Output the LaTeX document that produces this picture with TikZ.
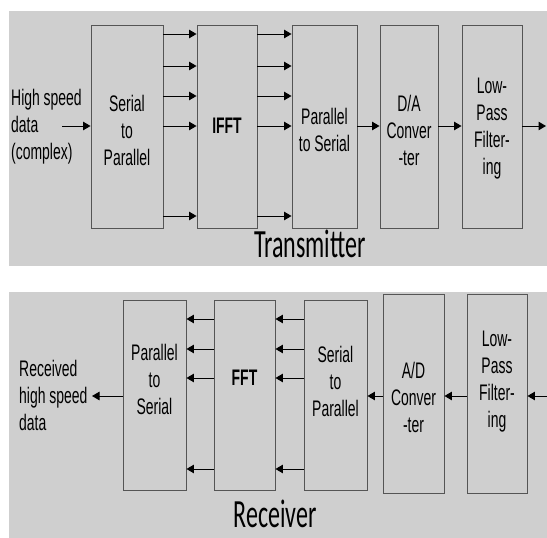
\documentclass[tikz,border=0pt]{standalone}
\usepackage{fontspec}
\usepackage{tikz}
\usetikzlibrary{arrows.meta}
\newfontfamily\blkfont[FakeStretch=0.62]{Liberation Sans}
\newfontfamily\capfont[FakeStretch=0.6]{Carlito}
\definecolor{panelgray}{RGB}{207,207,207}
\definecolor{edgegray}{RGB}{85,85,85}

\begin{document}
\begin{tikzpicture}[
    x=1pt, y=-1pt,
    blk/.style={rectangle, draw=edgegray, line width=0.9pt, inner sep=0pt},
    txt/.style={font=\blkfont\fontsize{22.5}{27}\selectfont, align=center, inner sep=0pt},
    side/.style={txt, align=left, anchor=west},
    caption/.style={font=\capfont\fontsize{40}{42}\selectfont, anchor=base, inner sep=0pt},
    arrow/.style={-{Triangle[length=7.5pt,width=8.5pt]}, line width=1pt}
]
\useasboundingbox (0,0) rectangle (547,538);
\fill[panelgray] (9,11) rectangle (547,266);
\fill[panelgray] (9,292) rectangle (547,538);

% transmitter
\node[blk, minimum width=72, minimum height=203] (sp1) at (127,126.5) {};
\node[blk, minimum width=60, minimum height=203] (ifft) at (227,126.5) {};
\node[blk, minimum width=65, minimum height=203] (ps1) at (324.5,126.5) {};
\node[blk, minimum width=58, minimum height=203] (da) at (409,126.5) {};
\node[blk, minimum width=60, minimum height=203] (lp1) at (492,126.5) {};

\node[txt] (sp1t) at (127,130) {Serial\\to\\Parallel};
\node[txt, font=\blkfont\bfseries\fontsize{22.5}{27}\selectfont] (ifftt) at (227,126) {IFFT};
\node[txt] (ps1t) at (324.5,130) {Parallel\\to Serial};
\node[txt] (dat) at (409,130) {D/A\\Conver\\-ter};
\node[txt] (lp1t) at (492,129) {Low-\\Pass\\Filter-\\ing};
\node[side] (hsd) at (11,127) {High speed\\data\\(complex)};

\coordinate (in1) at (62,126);
\coordinate (out1) at (546,126);
\draw[arrow] (in1) -- (sp1.west |- in1);
\foreach \r in {34,66,96,126,216} {
  \draw[arrow] (sp1.east |- 0,\r) -- (ifft.west |- 0,\r);
  \draw[arrow] (ifft.east |- 0,\r) -- (ps1.west |- 0,\r);
}
\draw[arrow] (ps1.east |- in1) -- (da.west |- in1);
\draw[arrow] (da.east |- in1) -- (lp1.west |- in1);
\draw[arrow] (lp1.east |- out1) -- (out1);
\node[caption] (tx) at (310,257) {Transmitter};

% receiver
\node[blk, minimum width=63, minimum height=190] (ps2) at (154.5,395) {};
\node[blk, minimum width=61, minimum height=190] (fft) at (244.5,395) {};
\node[blk, minimum width=63, minimum height=190] (sp2) at (335.5,395) {};
\node[blk, minimum width=61, minimum height=199] (ad) at (413.5,393.5) {};
\node[blk, minimum width=60, minimum height=199] (lp2) at (497,393.5) {};

\node[txt] (ps2t) at (154.5,379) {Parallel\\to\\Serial};
\node[txt, font=\blkfont\bfseries\fontsize{22.5}{27}\selectfont] (fftt) at (244.5,378) {FFT};
\node[txt] (sp2t) at (335.5,381) {Serial\\to\\Parallel};
\node[txt] (adt) at (413.5,397) {A/D\\Conver\\-ter};
\node[txt] (lp2t) at (497,382) {Low-\\Pass\\Filter-\\ing};
\node[side] (rhsd) at (19,395) {Received\\high speed\\data};

\coordinate (in2) at (547,396);
\coordinate (out2) at (92,396);
\draw[arrow] (in2) -- (lp2.east |- in2);
\draw[arrow] (lp2.west |- in2) -- (ad.east |- in2);
\draw[arrow] (ad.west |- in2) -- (sp2.east |- in2);
\foreach \r in {319,349,378,469} {
  \draw[arrow] (sp2.west |- 0,\r) -- (fft.east |- 0,\r);
  \draw[arrow] (fft.west |- 0,\r) -- (ps2.east |- 0,\r);
}
\draw[arrow] (ps2.west |- out2) -- (out2);
\node[caption] (rx) at (275,527) {Receiver};
\end{tikzpicture}
\end{document}
